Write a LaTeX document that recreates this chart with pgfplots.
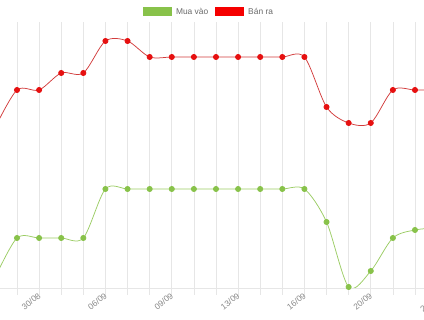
\documentclass[border=0pt]{standalone}
\usepackage{pgfplots}
\pgfplotsset{compat=1.18}
\usepackage{pgfplotstable}
\usepackage{fontspec}
\setmainfont{Liberation Sans}
\definecolor{gridc}{RGB}{230,230,230}
\definecolor{txt}{RGB}{105,105,105}
\definecolor{ticktxt}{RGB}{135,135,135}
\definecolor{redl}{RGB}{210,60,60}
\definecolor{redm}{RGB}{230,16,16}
\definecolor{redleg}{RGB}{245,0,0}
\definecolor{greenl}{RGB}{155,204,100}
\definecolor{greenm}{RGB}{136,194,74}
\pgfplotstableread{
x y
-1 192
0 230
1 230
2 247
3 247
4 279
5 279
6 263
7 263
8 263
9 263
10 263
11 263
12 263
13 263
14 213
15 197
16 197
17 230
18 230
19 230
20 230
}\banra
\pgfplotstableread{
x y
-1 42
0 82
1 82
2 82
3 82
4 131
5 131
6 131
7 131
8 131
9 131
10 131
11 131
12 131
13 131
14 98
15 33
16 49
17 82
18 90
19 92
20 93
}\muavao
\begin{document}
\begin{tikzpicture}
\begin{axis}[
  at={(0pt,32pt)}, anchor=south west,
  x=22.11pt, y=1pt,
  xmin=-0.769, xmax=18.408, ymin=32, ymax=298,
  axis x line*=bottom, axis y line=none,
  x axis line style={gridc, line width=0.7pt, -},
  xtick={1,4,7,10,13,16},
  xticklabels={30/08,06/09,09/09,13/09,16/09,20/09},
  minor xtick={0,...,18},
  xmajorgrids, xminorgrids, grid style={gridc, line width=0.7pt},
  minor grid style={gridc, line width=0.7pt},
  tick align=outside, major tick length=7pt, minor tick length=7pt,
  tick style={gridc, line width=0.7pt},
  xticklabel style={rotate=38, anchor=east, font=\fontsize{8.4}{9}\selectfont, text=ticktxt, inner sep=1pt, xshift=1.5pt},
  clip=true,
  legend style={at={(0.5,1)}, anchor=south, draw=none, fill=none, yshift=2pt, xshift=-3pt,
    legend columns=2, font=\fontsize{8.4}{9}\selectfont, text=txt,
    /tikz/every odd column/.append style={column sep=2pt},
    /tikz/every even column/.append style={column sep=5pt}},
  legend cell align=left,
]
\addlegendimage{legend image code/.code={\fill[greenm, draw=none] (0pt,-4.5pt) rectangle (29pt,4.5pt);}}
\addlegendentry{Mua vào}
\addlegendimage{legend image code/.code={\fill[redleg, draw=none] (0pt,-4.5pt) rectangle (29pt,4.5pt);}}
\addlegendentry{Bán ra}
\addplot[forget plot, redl, line width=0.75pt, smooth, tension=0.5, mark=*, mark size=2.6pt, mark options={fill=redm, draw=redm}] table {\banra};
\addplot[forget plot, greenl, line width=0.75pt, smooth, tension=0.5, mark=*, mark size=2.6pt, mark options={fill=greenm, draw=greenm}] table {\muavao};
\end{axis}
\node[rotate=38, anchor=east, font=\fontsize{8.4}{9}\selectfont, text=ticktxt, inner sep=1pt] at (438.7pt,24pt) {22/09};
\pgfresetboundingbox
\path (0,0) rectangle (424pt,320pt);
\end{tikzpicture}
\end{document}
